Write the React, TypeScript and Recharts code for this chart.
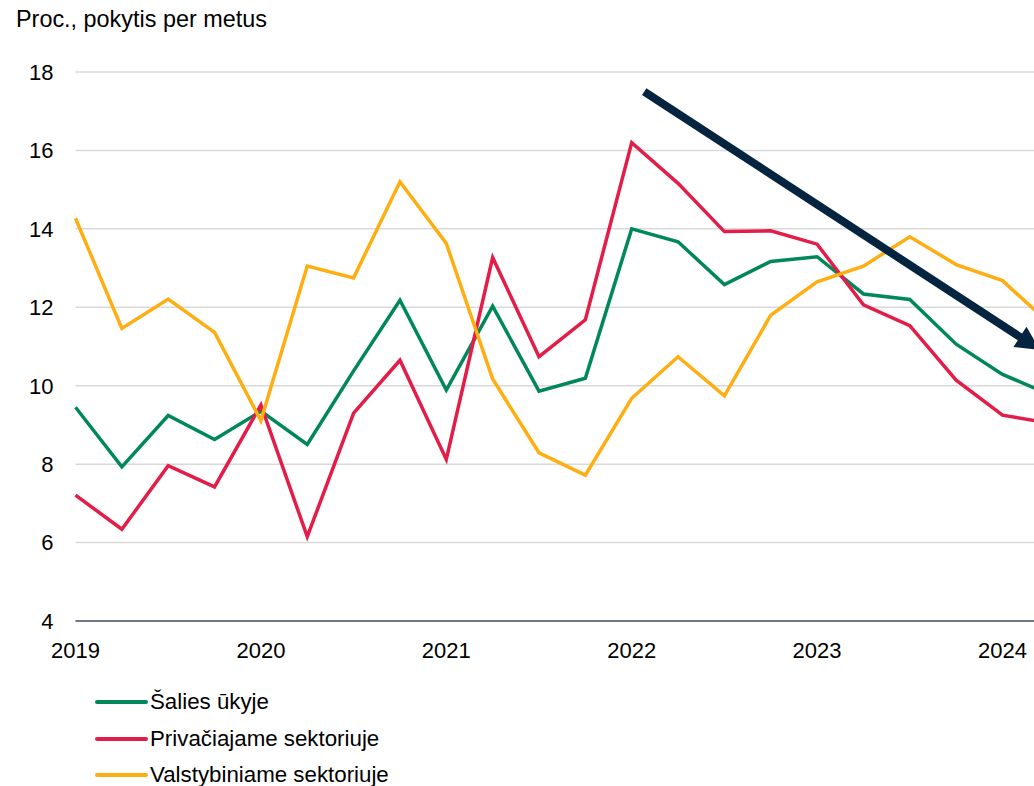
import React from 'react';
import { LineChart, Line, XAxis, YAxis, CartesianGrid, ReferenceLine, Legend } from 'recharts';

const quarters = [
  '2019 I', '2019 II', '2019 III', '2019 IV',
  '2020 I', '2020 II', '2020 III', '2020 IV',
  '2021 I', '2021 II', '2021 III', '2021 IV',
  '2022 I', '2022 II', '2022 III', '2022 IV',
  '2023 I', '2023 II', '2023 III', '2023 IV',
  '2024 I', '2024 II',
];
const yearTicks = [0, 4, 8, 12, 16, 20];
const yearLabels = ['2019', '2020', '2021', '2022', '2023', '2024'];
const yTicks = [4, 6, 8, 10, 12, 14, 16, 18];

const salies = [9.45, 7.93, 9.24, 8.63, 9.35, 8.5, 10.38, 12.18, 9.89, 12.03, 9.86, 10.19, 14.0, 13.67, 12.58, 13.17, 13.29, 12.34, 12.2, 11.06, 10.29, 9.78];
const privatus = [7.21, 6.34, 7.96, 7.42, 9.51, 6.15, 9.3, 10.65, 8.12, 13.27, 10.74, 11.68, 16.2, 15.16, 13.93, 13.95, 13.61, 12.06, 11.53, 10.14, 9.25, 9.05];
const valstybinis = [14.27, 11.46, 12.21, 11.36, 9.11, 13.05, 12.75, 15.2, 13.63, 10.17, 8.29, 7.72, 9.68, 10.74, 9.74, 11.8, 12.65, 13.05, 13.8, 13.09, 12.68, 11.6];

const seriesNames = ['Šalies ūkyje', 'Privačiajame sektoriuje', 'Valstybiniame sektoriuje'];
const seriesColors = ['#00875a', '#e31d48', '#ffae12'];

// trend arrow endpoints in data coordinates (quarter index, value)
const arrowStart = { x: 12.27, y: 17.5 };
const arrowEnd = { x: 20.81, y: 10.91 };

const data = quarters.map((q, i) => ({
  i,
  q,
  salies: salies[i],
  privatus: privatus[i],
  valstybinis: valstybinis[i],
}));

const FONT = '"Liberation Sans", Arial, sans-serif';

const ArrowShape = (props: any) => {
  const { x1, y1, x2, y2 } = props;
  const dx = x2 - x1;
  const dy = y2 - y1;
  const len = Math.sqrt(dx * dx + dy * dy);
  const ux = dx / len;
  const uy = dy / len;
  const headLen = 24;
  const headHalf = 12;
  const bx = x2 - ux * headLen;
  const by = y2 - uy * headLen;
  const px = -uy;
  const py = ux;
  const pts = `${x2},${y2} ${bx + px * headHalf},${by + py * headHalf} ${bx - px * headHalf},${by - py * headHalf}`;
  return (
    <g>
      <line x1={x1} y1={y1} x2={bx + ux * 2} y2={by + uy * 2} stroke="#05243f" strokeWidth={8} />
      <polygon points={pts} fill="#05243f" />
    </g>
  );
};

const LegendContent = () => (
  <div style={{ fontFamily: FONT, fontSize: 22.3, color: '#000' }}>
    {seriesNames.map((n, k) => (
      <div key={n} style={{ display: 'flex', alignItems: 'center', height: 36.5 }}>
        <div style={{ width: 53, height: 4, borderRadius: 2, background: seriesColors[k] }} />
        <span style={{ marginLeft: 2 }}>{n}</span>
      </div>
    ))}
  </div>
);

export default function App() {
  return (
    <div style={{ position: 'absolute', left: 0, top: 0, width: 1034, height: 786, overflow: 'hidden', background: '#fff' }}>
      <div style={{ position: 'absolute', left: 16, top: 6, fontFamily: FONT, fontSize: 23.4, color: '#000', whiteSpace: 'nowrap' }}>
        Proc., pokytis per metus
      </div>
      <LineChart
        width={1070}
        height={786}
        data={data}
        margin={{ top: 72, right: 21.15, bottom: 135, left: 0 }}
      >
        <CartesianGrid vertical={false} stroke="#d9d9d9" strokeWidth={1.5} />
        <XAxis
          dataKey="i"
          type="number"
          domain={[0, 21]}
          ticks={yearTicks}
          tickFormatter={(v: number) => yearLabels[yearTicks.indexOf(v)] ?? ''}
          axisLine={{ stroke: '#44546a', strokeWidth: 1.5 }}
          tickLine={false}
          tickMargin={15}
          tick={{ fontFamily: FONT, fontSize: 22, fill: '#000' }}
          height={30}
          allowDecimals={false}
          interval={0}
        />
        <YAxis
          domain={[4, 18]}
          ticks={yTicks}
          width={75.5}
          axisLine={false}
          tickLine={false}
          tickMargin={16}
          tick={{ fontFamily: FONT, fontSize: 22, fill: '#000' }}
          interval={0}
        />
        <Line dataKey="salies" name={seriesNames[0]} stroke={seriesColors[0]} strokeWidth={3.5} dot={false} isAnimationActive={false} strokeLinejoin="miter" />
        <Line dataKey="privatus" name={seriesNames[1]} stroke={seriesColors[1]} strokeWidth={3.5} dot={false} isAnimationActive={false} strokeLinejoin="miter" />
        <Line dataKey="valstybinis" name={seriesNames[2]} stroke={seriesColors[2]} strokeWidth={3.5} dot={false} isAnimationActive={false} strokeLinejoin="miter" />
        <ReferenceLine
          segment={[arrowStart, arrowEnd]}
          ifOverflow="visible"
          shape={ArrowShape}
        />
        <Legend
          layout="horizontal"
          verticalAlign="middle"
          align="center"
          content={LegendContent}
          wrapperStyle={{ position: 'absolute', left: 95, top: 684, width: 400, height: 110 }}
        />
      </LineChart>
    </div>
  );
}
